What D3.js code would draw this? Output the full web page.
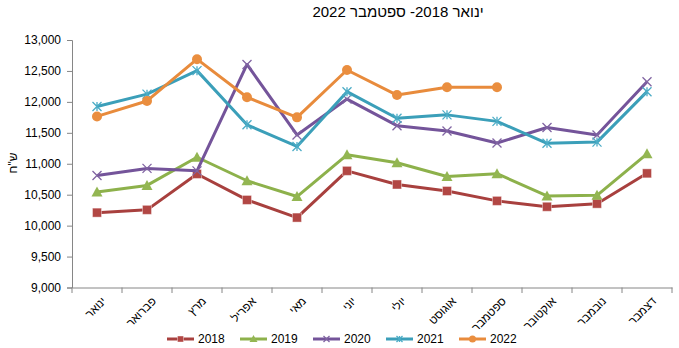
<!DOCTYPE html>
<html lang="he">
<head>
<meta charset="utf-8">
<title>chart</title>
<script src="https://cdn.jsdelivr.net/npm/d3@7"></script>
<style>
  html, body { margin:0; padding:0; background:#fff; overflow:hidden }
  text { font-family: "Liberation Sans", Arial, sans-serif; }
</style>
</head>
<body>
<svg id="chart" width="679" height="348"></svg>
<script>
// data
var months = ["ינואר","פברואר","מרץ","אפריל","מאי","יוני","יולי","אוגוסט","ספטמבר","אוקטובר","נובמבר","דצמבר"];
var years = ["2018","2019","2020","2021","2022"];
var v2018 = [10210, 10255, 10835, 10415, 10130, 10885, 10665, 10560, 10400, 10305, 10355, 10845];
var v2019 = [10545, 10650, 11105, 10725, 10470, 11145, 11015, 10795, 10840, 10480, 10490, 11160];
var v2020 = [10810, 10925, 10885, 12605, 11465, 12045, 11615, 11530, 11335, 11585, 11465, 12325];
var v2021 = [11925, 12125, 12505, 11630, 11280, 12165, 11735, 11790, 11685, 11330, 11350, 12165];
var v2022 = [11765, 12015, 12690, 12075, 11750, 12515, 12110, 12235, 12235];
var yTicks = [9000, 9500, 10000, 10500, 11000, 11500, 12000, 12500, 13000];

var series = [v2018, v2019, v2020, v2021, v2022];
var colors = ["#A8403E", "#8DB14B", "#74549A", "#3B9FB9", "#E88B3C"];
var markerFill = ["#B24744", "#93B652", "#8064A2", "#4BACC6", "#EA8E3F"];
var markers = ["square", "triangle", "x", "star", "circle"];

var svg = d3.select("#chart");

var x = d3.scaleBand().domain(months).range([72, 672]);
var y = d3.scaleLinear().domain([9000, 13000]).range([287.5, 40]);

// title
svg.append("text")
  .attr("x", 398).attr("y", 17)
  .attr("text-anchor", "middle")
  .style("font-size", "15px")
  .attr("direction", "rtl")
  .text("ינואר 2018- ספטמבר 2022");

// y axis
var yAxis = svg.append("g")
  .attr("transform", "translate(72,0)")
  .call(d3.axisLeft(y).tickValues(yTicks).tickSize(5).tickPadding(6)
        .tickFormat(d3.format(",")));
yAxis.selectAll("text").style("font-size", "12px").attr("fill", "#000");
yAxis.selectAll("line, path").attr("stroke", "#868686");

// y title
svg.append("text")
  .attr("transform", "translate(17,163) rotate(-90)")
  .attr("text-anchor", "middle")
  .style("font-size", "12px")
  .text("ש\"ח");

// x axis
var xAxis = svg.append("g")
  .attr("transform", "translate(0,287.5)")
  .call(d3.axisBottom(x).tickSize(0).tickSizeOuter(0).tickFormat(""));
xAxis.select("path").attr("stroke", "#868686");
var bounds = d3.range(months.length + 1).map(function(i) { return 72 + i * x.step(); });
svg.append("g").selectAll("line")
  .data(bounds).enter().append("line")
  .attr("x1", function(d) { return d; }).attr("x2", function(d) { return d; })
  .attr("y1", 287.5).attr("y2", 293)
  .attr("stroke", "#868686");

svg.append("g").selectAll("text")
  .data(months).enter().append("text")
  .attr("transform", function(d) {
    return "translate(" + (x(d) + x.bandwidth() / 2 + 5) + ",297) rotate(-45)";
  })
  .attr("text-anchor", "end")
  .attr("dy", "0.6em")
  .style("font-size", "11.5px")
  .text(function(d) { return d; });

// marker drawing
function drawMarker(g, type, color, fill, size) {
  var s = size;
  if (type === "square") {
    g.append("rect").attr("x", -s).attr("y", -s).attr("width", 2 * s).attr("height", 2 * s)
      .attr("fill", fill).attr("stroke", "#fff").attr("stroke-opacity", 0.4);
  } else if (type === "triangle") {
    g.append("path").attr("d", "M0," + (-s - 1) + "L" + (s + 1) + "," + s + "L" + (-s - 1) + "," + s + "Z")
      .attr("fill", fill);
  } else if (type === "x") {
    g.append("path").attr("d", "M" + (-s) + "," + (-s) + "L" + s + "," + s + "M" + (-s) + "," + s + "L" + s + "," + (-s))
      .attr("stroke", fill).attr("stroke-width", 1.3).attr("fill", "none");
  } else if (type === "star") {
    g.append("path").attr("d", "M" + (-s) + "," + (-s) + "L" + s + "," + s + "M" + (-s) + "," + s + "L" + s + "," + (-s) +
        "M0," + (-s) + "L0," + s)
      .attr("stroke", fill).attr("stroke-width", 1.3).attr("fill", "none");
  } else {
    g.append("circle").attr("r", s + 0.5).attr("fill", fill);
  }
}

var line = d3.line()
  .x(function(d, i) { return x(months[i]) + x.bandwidth() / 2; })
  .y(function(d) { return y(d); });

series.forEach(function(vals, k) {
  var g = svg.append("g");
  g.append("path").datum(vals)
    .attr("d", line)
    .attr("fill", "none")
    .attr("stroke", colors[k])
    .attr("stroke-width", 3)
    .attr("stroke-linejoin", "round");
  vals.forEach(function(v, i) {
    var m = g.append("g")
      .attr("transform", "translate(" + (x(months[i]) + x.bandwidth() / 2) + "," + y(v) + ")");
    drawMarker(m, markers[k], colors[k], markerFill[k], 4.5);
  });
});

// legend
var legend = svg.append("g");
years.forEach(function(yr, k) {
  var lx = 167 + k * 73, ly = 339;
  legend.append("line")
    .attr("x1", lx).attr("x2", lx + 27).attr("y1", ly).attr("y2", ly)
    .attr("stroke", colors[k]).attr("stroke-width", 3);
  var m = legend.append("g").attr("transform", "translate(" + (lx + 13.5) + "," + ly + ")");
  drawMarker(m, markers[k], colors[k], markerFill[k], 3);
  legend.append("text")
    .attr("x", lx + 31).attr("y", ly + 4)
    .style("font-size", "12px")
    .text(yr);
});
</script>
</body>
</html>
